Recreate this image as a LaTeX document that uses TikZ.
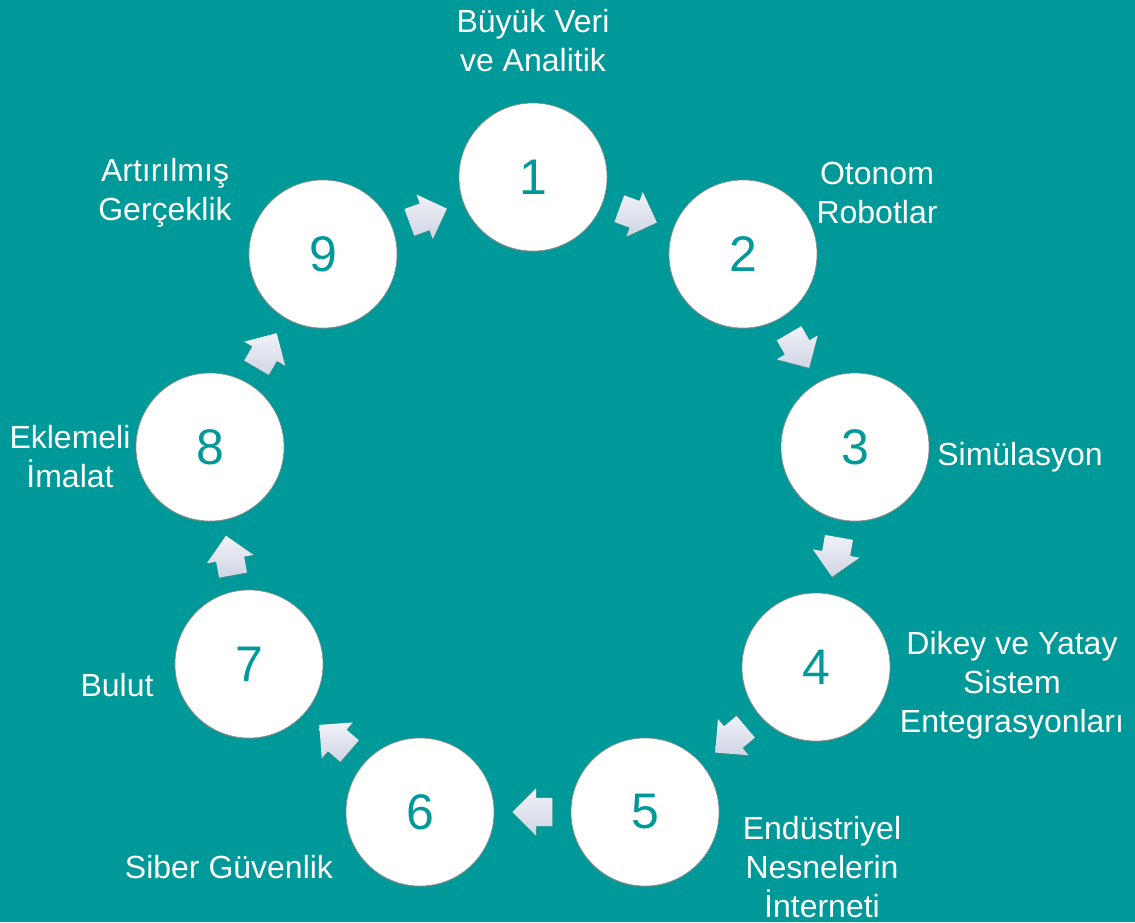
\documentclass[tikz,border=0pt]{standalone}
\usepackage{fontspec}
\setmainfont{Liberation Sans}
\usetikzlibrary{shapes.arrows,shadows,calc}
\definecolor{tealbg}{RGB}{0,153,153}
\definecolor{arrowtop}{RGB}{240,242,248}
\definecolor{arrowbot}{RGB}{208,213,228}
\tikzset{
  stepcircle/.style={circle, fill=white, draw=black!45, line width=0.6pt,
    minimum size=148pt, inner sep=0pt, text=tealbg,
    font=\fontsize{50}{50}\selectfont,
    drop shadow={opacity=0.35, shadow xshift=-0.5pt, shadow yshift=-1.5pt}},
  steplabel/.style={text=white, align=center, inner sep=0pt,
    font=\fontsize{32}{39}\selectfont},
  flowarrow/.style={single arrow, minimum height=40pt,
    single arrow head extend=9.5pt, single arrow head indent=0pt,
    inner xsep=0pt, inner ysep=14pt,
    top color=arrowtop, bottom color=arrowbot, draw=none,
    drop shadow={opacity=0.3, shadow xshift=0.5pt, shadow yshift=-1.5pt}}
}
\begin{document}
\begin{tikzpicture}[x=1pt, y=-1pt]
  % arka plan
  \fill[tealbg] (0,0) rectangle (1135,922);
  \useasboundingbox (0,0) rectangle (1135,922);

  % adim daireleri
  \node[stepcircle] (c1) at (533,177) {1};
  \node[stepcircle] (c2) at (743,254) {2};
  \node[stepcircle] (c3) at (855,447) {3};
  \node[stepcircle] (c4) at (816,667) {4};
  \node[stepcircle] (c5) at (645,812) {5};
  \node[stepcircle] (c6) at (420,812) {6};
  \node[stepcircle] (c7) at (249,664) {7};
  \node[stepcircle] (c8) at (210,447) {8};
  \node[stepcircle] (c9) at (323,254) {9};

  % daireler arasi oklar
  \foreach \a/\b in {1/2,2/3,3/4,4/5,5/6,6/7,7/8,8/9,9/1} {
    \path let \p1=($(c\b)-(c\a)$), \n1={atan2(\y1,\x1)} in
      node[flowarrow, rotate=\n1] (a\a) at ($(c\a)!0.5!(c\b)!7pt!(c\a)$) {};
  }

  % etiketler
  \node[steplabel] (l1) at (533,41) {Büyük Veri\\ve Analitik};
  \node[steplabel] (l2) at (877,193) {Otonom\\Robotlar};
  \node[steplabel] (l3) at (1020,457) {Simülasyon};
  \node[steplabel] (l4) at (1012,685) {Dikey ve Yatay\\Sistem\\Entegrasyonları};
  \node[steplabel] (l5) at (822,867) {Endüstriyel\\Nesnelerin\\İnterneti};
  \node[steplabel] (l6) at (229,867) {Siber Güvenlik};
  \node[steplabel] (l7) at (117,685) {Bulut};
  \node[steplabel] (l8) at (70,457) {Eklemeli\\İmalat};
  \node[steplabel] (l9) at (165,193) {Artırılmış\\Gerçeklik};
\end{tikzpicture}
\end{document}
